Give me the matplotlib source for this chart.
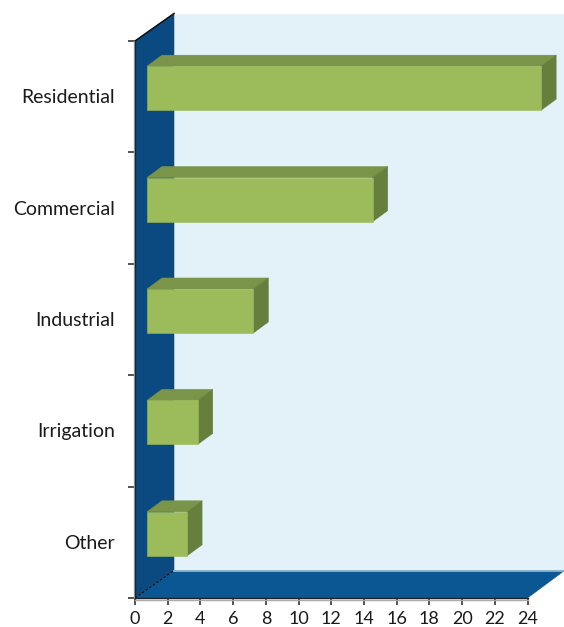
import matplotlib
matplotlib.use('Agg')
import matplotlib.pyplot as plt
from matplotlib.patches import Polygon

plt.rcParams['font.family'] = ['Lato', 'DejaVu Sans']

categories = ['Other', 'Irrigation', 'Industrial', 'Commercial', 'Residential']
values = [2.45, 3.1, 6.5, 13.8, 24.1]
xticks = list(range(0, 25, 2))

W, H = 564, 627
# plot box of the front plane, in pixels
left, right, top, bottom = 135, 527.5, 41, 598

fig = plt.figure(figsize=(W / 100, H / 100), dpi=100)
ax = fig.add_axes([left / W, 1 - bottom / H, (right - left) / W, (bottom - top) / H])
ax.set_xlim(0, 24)
ax.set_ylim(0, 5)

ux = 24 / (right - left)   # data units per pixel
uy = 5 / (bottom - top)

# depth of the box
dx, dy = 39 * ux, 27.5 * uy
xmax = 24 + dx * 0.95

def poly(pts, color, z=1):
    ax.add_patch(Polygon(pts, closed=True, facecolor=color, edgecolor=color, lw=0.4,
                         clip_on=False, zorder=z))

# back wall
poly([(dx, dy), (xmax, dy), (xmax, 5 + dy), (dx, 5 + dy)], '#E3F2F8')
# left wall
poly([(0, 0), (dx, dy), (dx, 5 + dy), (0, 5)], '#0A4A80', z=2)
# floor
poly([(0, 0), (24, 0), (xmax, dy), (dx, dy)], '#0B5794', z=2)
ax.plot([dx, xmax], [dy, dy], color='#9DBDD3', lw=1.2, clip_on=False, zorder=2)

# bars: top and side faces go first so the front face sits cleanly over them
bar_dx, bar_dy = 15 * ux, 11 * uy
x0 = 12 * ux
yoff = 8.5 * uy
h = 44 * uy
ys = [i + 0.5 + yoff for i in range(len(values))]
for y, v in zip(ys, values):
    x1 = x0 + v
    yt = y + h / 2
    yb = y - h / 2
    poly([(x0, yt), (x1, yt), (x1 + bar_dx, yt + bar_dy), (x0 + bar_dx, yt + bar_dy)], '#7A9449', z=4)
    poly([(x1, yb), (x1 + bar_dx, yb + bar_dy), (x1 + bar_dx, yt + bar_dy), (x1, yt)], '#677F3C', z=4)
bars = ax.barh(ys, values, height=h, left=x0, color='#9CBB5A', edgecolor='#9CBB5A',
               linewidth=0.4, zorder=4.5)
for b in bars:
    b.set_clip_on(False)

# top edge of the left wall and the dashed inner corner
ax.plot([0, dx], [5, 5 + dy], color='#111111', lw=1.1, clip_on=False, zorder=3)
ax.plot([0, dx], [0, dy], color='#111111', lw=0.9, ls=(0, (2, 1.5)), clip_on=False, zorder=3)

# soft grey line along the two axes
ax.plot([-1.2 * ux, -1.2 * ux], [0, 5], color='#AAAAAA', lw=1.0, clip_on=False, zorder=3)
ax.plot([0, 24], [-1.5 * uy, -1.5 * uy], color='#AAAAAA', lw=1.0, clip_on=False, zorder=3)

for s in ['top', 'right']:
    ax.spines[s].set_visible(False)
for s in ['left', 'bottom']:
    ax.spines[s].set_color('#222222')
    ax.spines[s].set_linewidth(1.0)
    ax.spines[s].set_zorder(5)
ax.patch.set_alpha(0)

ax.set_xticks(xticks)
ax.set_yticks(range(6))
ax.set_yticklabels([])
ax.tick_params(axis='both', length=5, width=1.1, color='#222222', direction='out')
ax.tick_params(axis='x', labelsize=13, pad=4, labelcolor='#1a1a1a')

# category labels sit on a baseline just below each band's centre
for i, c in enumerate(categories):
    ax.text(-20 * ux, i + 0.5 - 6.5 * uy, c, ha='right', va='baseline',
            fontsize=14, color='#1a1a1a')

fig.savefig('out.png', dpi=100, facecolor='white')
